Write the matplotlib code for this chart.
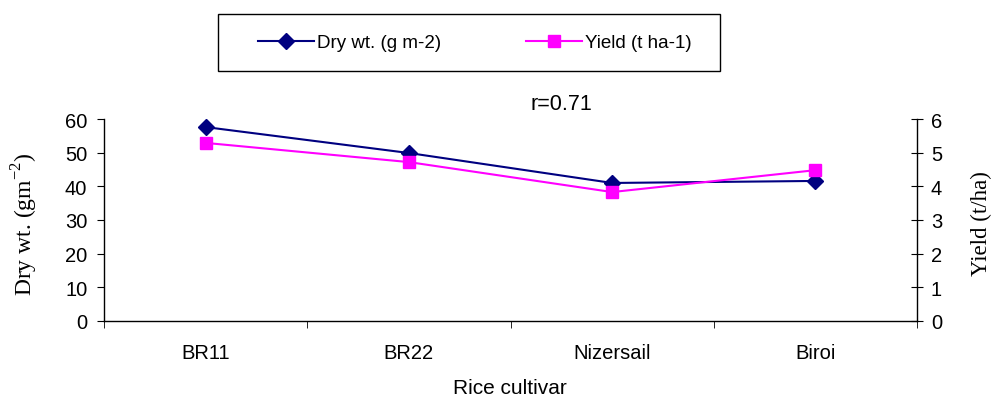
import matplotlib.pyplot as plt
from matplotlib.patches import Rectangle
import numpy as np

plt.rcParams['font.family'] = 'Liberation Sans'

cultivars = ['BR11', 'BR22', 'Nizersail', 'Biroi']
dry_wt = [57.6, 49.9, 41.0, 41.6]
yield_t = [5.29, 4.72, 3.83, 4.48]

W, H = 991, 402
fig = plt.figure(figsize=(W/100, H/100), dpi=100)
ax = fig.add_axes([104/W, 80/H, 813/W, 202/H])
ax2 = ax.twinx()

x = np.arange(len(cultivars))
l1, = ax.plot(x, dry_wt, color='#000080', marker='D', markersize=8, lw=1.5,
              label='Dry wt. (g m-2)', zorder=3)
l2, = ax2.plot(x, yield_t, color='#FF00FF', marker='s', markersize=8.5, lw=1.5,
               label='Yield (t ha-1)', zorder=2)

ax.set_xlim(-0.5, 3.5)
ax.set_ylim(0, 60)
ax2.set_ylim(0, 6)
ax.set_yticks(range(0, 61, 10))
ax2.set_yticks(range(0, 7))

# category labels in the middle, ticks on the boundaries
ax.set_xticks(x)
ax.set_xticklabels(cultivars, fontsize=14.5)
ax.set_xticks(np.arange(-0.5, 4, 1), minor=True)
ax.tick_params(axis='x', which='major', length=0, pad=16)
ax.tick_params(axis='x', which='minor', length=5, direction='out')
ax.tick_params(axis='y', labelsize=14.5, length=5, direction='out', pad=7)
ax2.tick_params(axis='y', labelsize=14.5, length=8, direction='inout', pad=6)

for a in (ax, ax2):
    a.spines['top'].set_visible(False)
    for s in a.spines.values():
        s.set_linewidth(1)
ax.spines['right'].set_visible(False)
ax2.spines['left'].set_visible(False)
ax2.spines['bottom'].set_visible(False)

fig.text(25/W, 1 - 224/H, 'Dry wt. (gm$^{\\mathregular{-2}}$)', rotation=90,
         ha='center', va='center', fontsize=17, family='Liberation Serif')
fig.text(981/W, 1 - 224/H, 'Yield (t/ha)', rotation=90,
         ha='center', va='center', fontsize=16.5, family='Liberation Serif')
fig.text(561/W, 1 - 105/H, 'r=0.71', ha='center', va='center', fontsize=15.5)
fig.text(510/W, 1 - 389/H, 'Rice cultivar', ha='center', va='center', fontsize=15)

# legend box drawn separately, entries placed inside
fig.patches.append(Rectangle((218/W, 1 - 72/H), 502/W, 57/H, transform=fig.transFigure,
                             facecolor='white', edgecolor='black', lw=1))
fig.legend(handles=[l1, l2], loc='center left', ncol=2, fontsize=13.5,
           bbox_to_anchor=(258/W, 1 - 43.5/H), frameon=False, handlelength=3,
           borderaxespad=0, borderpad=0, handletextpad=0.15, columnspacing=4.5)

fig.savefig('out.png', dpi=100)
